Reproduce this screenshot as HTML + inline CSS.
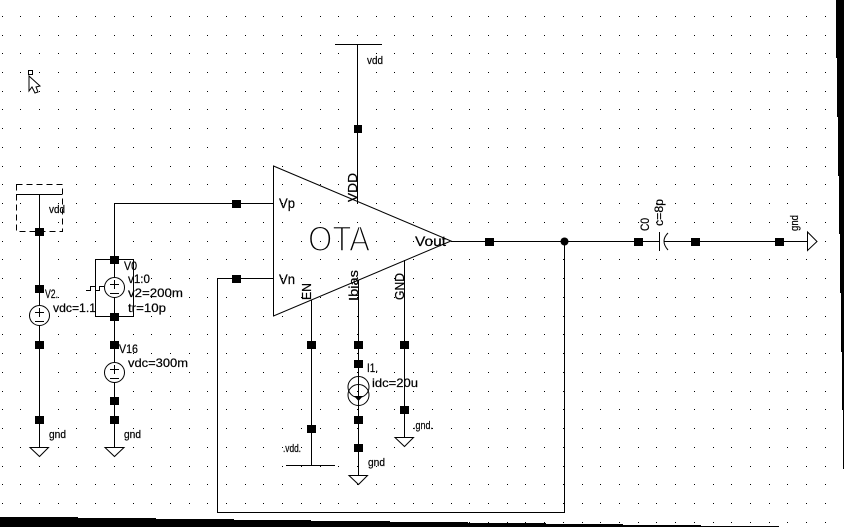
<!DOCTYPE html>
<html><head><meta charset="utf-8"><style>
html,body{margin:0;padding:0;background:#fff;width:844px;height:527px;overflow:hidden}
svg{display:block}
text{font-family:"Liberation Sans",sans-serif;font-size:12px;fill:#000;stroke:#000;stroke-width:.2}
.w{stroke:#000;stroke-width:1;fill:none}
</style></head><body>
<svg width="844" height="527" viewBox="0 0 844 527" xmlns="http://www.w3.org/2000/svg">
<rect width="844" height="527" fill="#fff"/>
<defs>
<path id="r" shape-rendering="crispEdges" stroke="#000" stroke-width="1" d="M2 .5h1M20 .5h1M39 .5h1M58 .5h1M76 .5h1M95 .5h1M114 .5h1M133 .5h1M151 .5h1M170 .5h1M189 .5h1M207 .5h1M226 .5h1M245 .5h1M263 .5h1M282 .5h1M301 .5h1M320 .5h1M338 .5h1M357 .5h1M376 .5h1M394 .5h1M413 .5h1M432 .5h1M451 .5h1M469 .5h1M488 .5h1M507 .5h1M525 .5h1M544 .5h1M563 .5h1M582 .5h1M600 .5h1M619 .5h1M638 .5h1M656 .5h1M675 .5h1M694 .5h1M713 .5h1M731 .5h1M750 .5h1M769 .5h1M787 .5h1M806 .5h1M825 .5h1"/>
</defs>
<use href="#r" y="16"/><use href="#r" y="35"/><use href="#r" y="53"/><use href="#r" y="72"/><use href="#r" y="91"/><use href="#r" y="109"/><use href="#r" y="128"/><use href="#r" y="147"/><use href="#r" y="166"/><use href="#r" y="184"/><use href="#r" y="203"/><use href="#r" y="222"/><use href="#r" y="241"/><use href="#r" y="259"/><use href="#r" y="278"/><use href="#r" y="297"/><use href="#r" y="316"/><use href="#r" y="334"/><use href="#r" y="353"/><use href="#r" y="372"/><use href="#r" y="391"/><use href="#r" y="409"/><use href="#r" y="428"/><use href="#r" y="447"/><use href="#r" y="466"/><use href="#r" y="484"/><use href="#r" y="503"/><use href="#r" y="522"/>

<!-- black scan edges -->
<g fill="#000" shape-rendering="crispEdges">
<path d="M836 0H844V469H843V410H842V352H841V293H840V234H839V176H838V117H837V58H836Z"/>
<path d="M0 517H78V518H156V519H234V520H311V521H390V522H468V523H546V524H623V525H701V526H779V527H0Z"/>
</g>

<!-- straight wires -->
<g class="w" shape-rendering="crispEdges">
<path d="M335 44.5H382M357.5 44V203"/>
<path d="M16 194.5H62M39.5 194V305M39.5 325V447"/>
<path d="M16.5 184.5H62.5V231.5H16.5Z" stroke-dasharray="6 4"/>
<path d="M114.5 258V203.5H273M114.5 259V277M114.5 298V362M114.5 382V447"/>
<path d="M95.5 259.5H133.5V316.5H95.5Z"/>
<path d="M273 278.5H217.5V512.5H564.5V241"/>
<path d="M451 241.5H659M664 241.5H807"/>
<path d="M659.5 232V251"/>
<path d="M311.5 300V465M286 465.5H335"/>
<path d="M358.5 280V377M358.5 405V475"/>
<path d="M404.5 260V437"/>
<path d="M86 290.5H90.5V286.5H95.5V290.5H99.5V286.5H104"/>
</g>

<!-- triangle -->
<path d="M273.5 166L451 241L273.5 316Z" fill="none" stroke="#000" stroke-width="1"/>
<path d="M273.5 166V316" class="w" shape-rendering="crispEdges"/>

<!-- capacitor curve -->
<path d="M668 233Q660 241 668 250" class="w"/>

<!-- grounds -->
<g fill="#fff" stroke="#000" stroke-width="1">
<path d="M30 447.5H48.5L39.5 456.5Z"/>
<path d="M105 447.5H124L114.5 456.5Z"/>
<path d="M349 475.5H367.5L358.5 484.5Z"/>
<path d="M395 437.5H413.5L404.5 446.5Z"/>
<path d="M807.5 232V250.5L817 241.5Z"/>
</g>

<!-- sources -->
<g fill="#fff" stroke="#000" stroke-width="1">
<circle cx="39.5" cy="315.5" r="10"/>
<circle cx="114.5" cy="287.5" r="10"/>
<circle cx="114.5" cy="372.5" r="10"/>
<circle cx="358.5" cy="387" r="10.5" fill="none"/>
<circle cx="358.5" cy="395" r="10.5" fill="none"/>
</g>
<g class="w" shape-rendering="crispEdges">
<path d="M35 312.5H44M39.5 308V317M35 321.5H44"/>
<path d="M110 284.5H119M114.5 280V289M110 293.5H119"/>
<path d="M110 369.5H119M114.5 365V374M110 378.5H119"/>
<path d="M358.5 377V405"/>
</g>
<path d="M354 396H363L358.5 401Z" fill="#000"/>

<!-- square nodes -->
<g fill="#000" shape-rendering="crispEdges">
<rect x="354" y="125" width="8" height="8"/>
<rect x="35" y="228" width="9" height="8"/>
<rect x="35" y="285" width="9" height="8"/>
<rect x="35" y="341" width="9" height="8"/>
<rect x="35" y="416" width="9" height="8"/>
<rect x="110" y="256" width="9" height="8"/>
<rect x="110" y="313" width="9" height="8"/>
<rect x="110" y="341" width="9" height="8"/>
<rect x="110" y="397" width="9" height="8"/>
<rect x="110" y="416" width="9" height="8"/>
<rect x="232" y="200" width="9" height="8"/>
<rect x="232" y="275" width="9" height="8"/>
<rect x="485" y="238" width="9" height="8"/>
<rect x="634" y="238" width="9" height="8"/>
<rect x="691" y="238" width="9" height="8"/>
<rect x="775" y="238" width="9" height="8"/>
<rect x="307" y="341" width="9" height="8"/>
<rect x="307" y="425" width="9" height="8"/>
<rect x="354" y="341" width="9" height="8"/>
<rect x="354" y="360" width="9" height="8"/>
<rect x="354" y="416" width="9" height="8"/>
<rect x="354" y="444" width="9" height="8"/>
<rect x="400" y="341" width="9" height="8"/>
<rect x="400" y="406" width="9" height="8"/>
</g>
<circle cx="564.5" cy="241.5" r="4" fill="#000"/>

<!-- cursor -->
<rect x="28.5" y="70.5" width="4" height="4" fill="#fff" stroke="#000" shape-rendering="crispEdges"/>
<path d="M29 76V91L32 87L35 93L38 92L36 87L40 86Z" fill="#fff" stroke="#000" stroke-width="1"/>

<!-- labels -->
<text x="367" y="64" textLength="16" lengthAdjust="spacingAndGlyphs" style="font-size:11px">vdd</text>
<text x="49" y="213" textLength="16" lengthAdjust="spacingAndGlyphs" style="font-size:11px">vdd</text>
<text x="45" y="298" textLength="13" lengthAdjust="spacingAndGlyphs">V2.</text>
<text x="53" y="312" textLength="43" lengthAdjust="spacingAndGlyphs">vdc=1.1</text>
<text x="124" y="270" textLength="13" lengthAdjust="spacingAndGlyphs">V0</text>
<text x="128" y="283" textLength="22" lengthAdjust="spacingAndGlyphs">v1:0</text>
<text x="128" y="297" textLength="55" lengthAdjust="spacingAndGlyphs">v2=200m</text>
<text x="128" y="312" textLength="38" lengthAdjust="spacingAndGlyphs">tr=10p</text>
<text x="119" y="353" textLength="19" lengthAdjust="spacingAndGlyphs">V16</text>
<text x="128" y="367" textLength="60" lengthAdjust="spacingAndGlyphs">vdc=300m</text>
<text x="49" y="438" textLength="17" lengthAdjust="spacingAndGlyphs" style="font-size:11px">gnd</text>
<text x="124" y="438" textLength="17" lengthAdjust="spacingAndGlyphs" style="font-size:11px">gnd</text>
<text x="367" y="372" textLength="11" lengthAdjust="spacingAndGlyphs">I1.</text>
<text x="372" y="387" textLength="46" lengthAdjust="spacingAndGlyphs">idc=20u</text>
<text x="368" y="466" textLength="17" lengthAdjust="spacingAndGlyphs" style="font-size:11px">gnd</text>
<text x="413" y="429" textLength="20" lengthAdjust="spacingAndGlyphs" style="font-size:11px">.gnd.</text>
<text x="283" y="452" textLength="18" lengthAdjust="spacingAndGlyphs" style="font-size:11px">.vdd.</text>

<text x="279" y="208" textLength="16" lengthAdjust="spacingAndGlyphs" style="font-size:14px">Vp</text>
<text x="279" y="284" textLength="16" lengthAdjust="spacingAndGlyphs" style="font-size:14px">Vn</text>
<text x="415" y="246" textLength="31" lengthAdjust="spacingAndGlyphs" style="font-size:14px">Vout</text>
<text x="308" y="251" textLength="62" lengthAdjust="spacingAndGlyphs" style="font-size:35px;stroke:#fff;stroke-width:1.6">OTA</text>

<text transform="translate(357 202) rotate(-90)" textLength="29" lengthAdjust="spacingAndGlyphs" style="font-size:13px">VDD</text>
<text transform="translate(311 300) rotate(-90)" textLength="17" lengthAdjust="spacingAndGlyphs" style="font-size:13px">EN</text>
<text transform="translate(358 301) rotate(-90)" textLength="31" lengthAdjust="spacingAndGlyphs" style="font-size:13px">Ibias</text>
<text transform="translate(404 300) rotate(-90)" textLength="27" lengthAdjust="spacingAndGlyphs" style="font-size:13px">GND</text>
<text transform="translate(649 231) rotate(-90)" textLength="13" lengthAdjust="spacingAndGlyphs">C0</text>
<text transform="translate(663 226) rotate(-90)" textLength="27" lengthAdjust="spacingAndGlyphs">c=8p</text>
<text transform="translate(798 231) rotate(-90)" textLength="16" lengthAdjust="spacingAndGlyphs" style="font-size:11px">gnd</text>
</svg>
</body></html>
